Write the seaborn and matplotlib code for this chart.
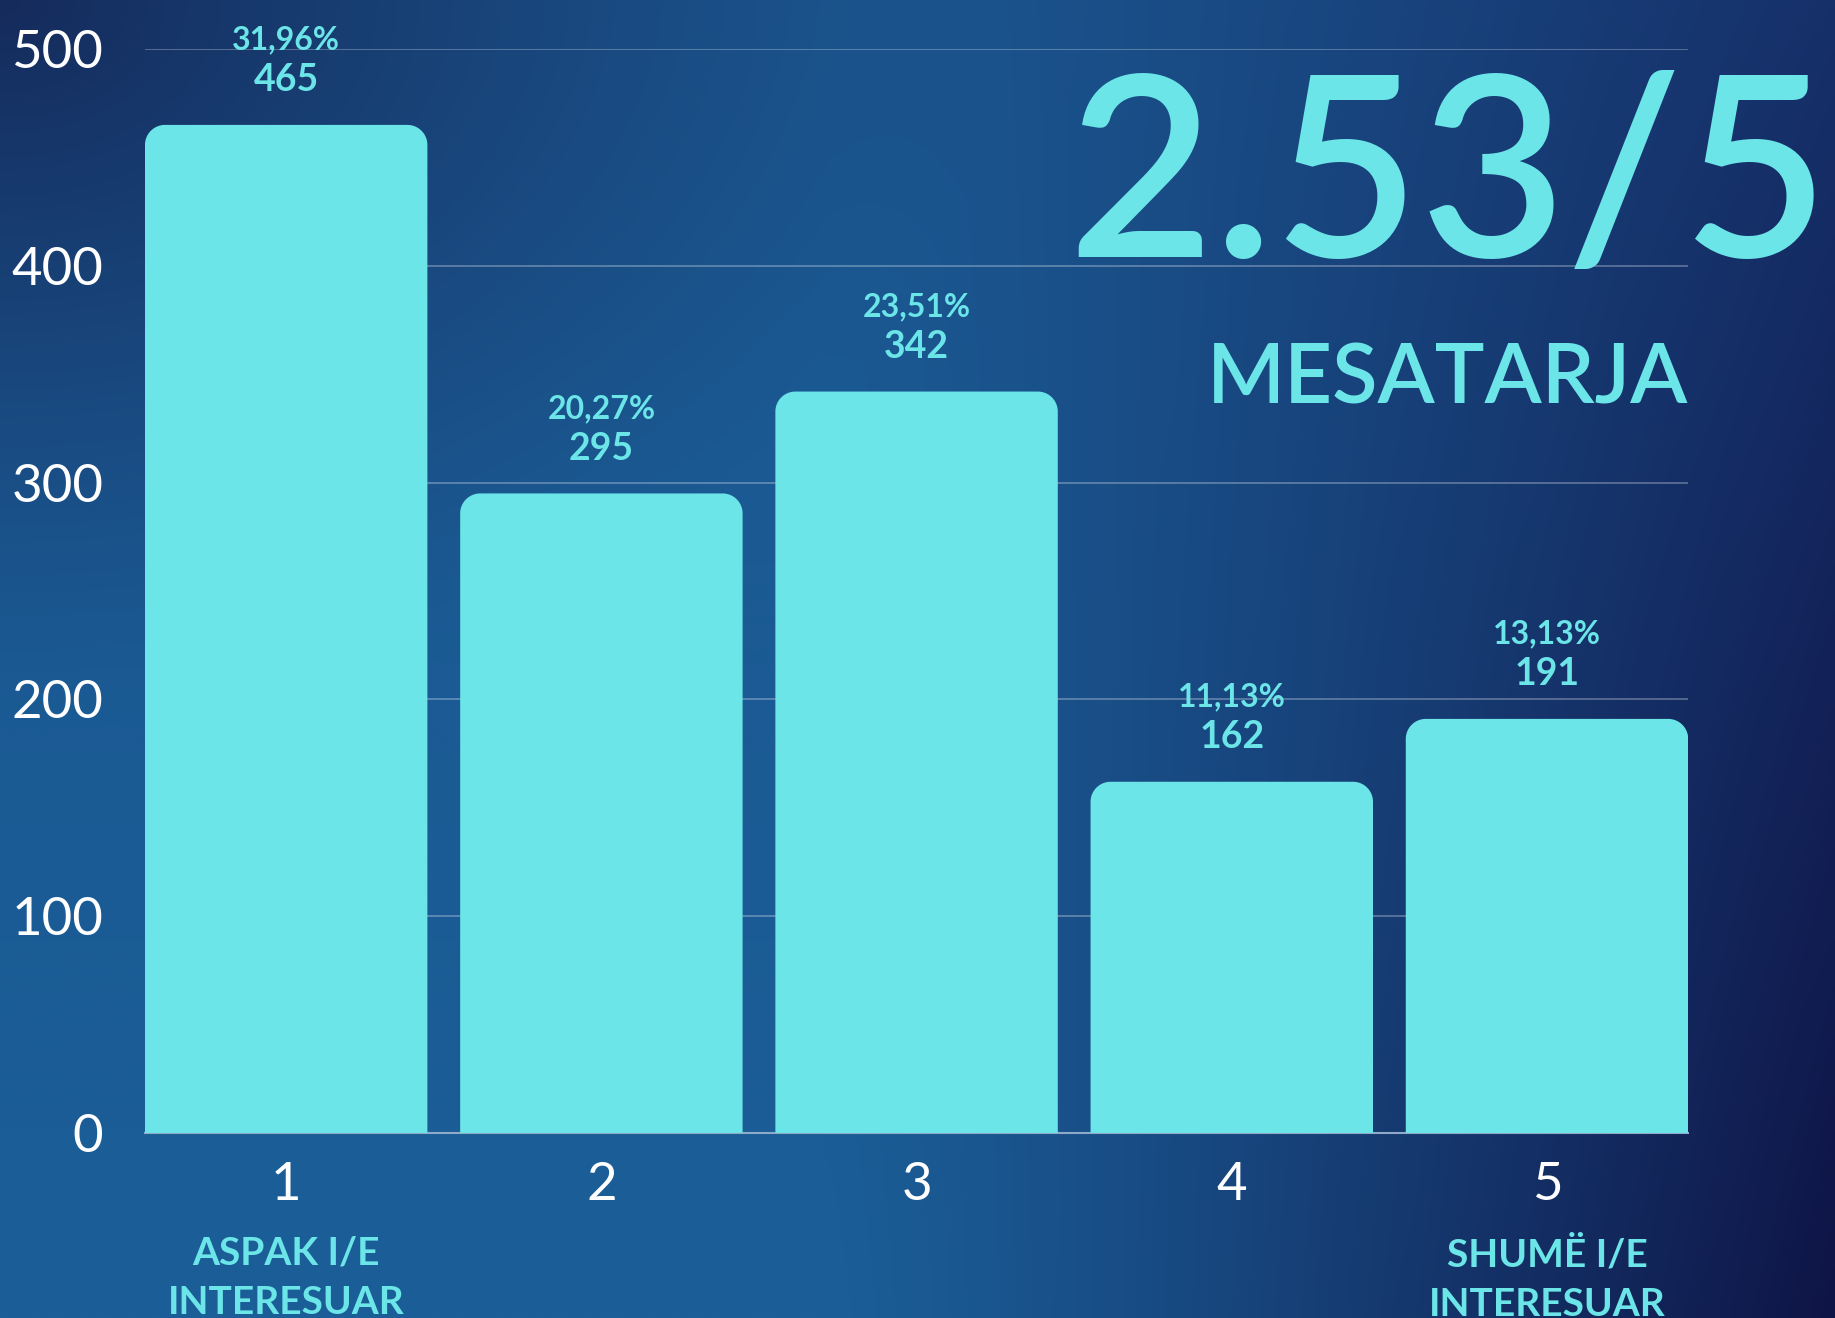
import numpy as np
import pandas as pd
import matplotlib
matplotlib.use("Agg")
import matplotlib.pyplot as plt
import seaborn as sns
from matplotlib.patches import PathPatch
from matplotlib.path import Path
from matplotlib.colors import to_rgb

# ---- data ----
ratings = ["1", "2", "3", "4", "5"]
counts = [465, 295, 342, 162, 191]
percents = ["31,96%", "20,27%", "23,51%", "11,13%", "13,13%"]
descriptions = ["ASPAK I/E\nINTERESUAR", "", "", "", "SHUMË I/E\nINTERESUAR"]
yticks = [0, 100, 200, 300, 400, 500]
average_text = "2.53/5"
average_label = "MESATARJA"

CYAN = "#6be5e8"

sns.set_theme(style="white")
plt.rcParams["font.family"] = ["Lato", "DejaVu Sans"]

W, H = 18.35, 13.18
fig = plt.figure(figsize=(W, H), dpi=100)

# ---- background gradient ----
bg = fig.add_axes([0, 0, 1, 1], zorder=-10)
ny, nx = 200, 300
yy, xx = np.mgrid[0:1:ny * 1j, 0:1:nx * 1j]  # yy: 0 top -> 1 bottom
blue_top = np.array(to_rgb("#1b5790"))
blue_bot = np.array(to_rgb("#1b5e98"))
dark_top = np.array(to_rgb("#16306a"))
dark_bot = np.array(to_rgb("#0f1446"))
blue = blue_top[None, None, :] * (1 - yy[..., None]) + blue_bot[None, None, :] * yy[..., None]
dark = dark_top[None, None, :] * (1 - yy[..., None]) + dark_bot[None, None, :] * yy[..., None]
t = np.clip((xx - 0.45) / 0.55, 0, 1) ** 1.2
img = blue * (1 - t[..., None]) + dark * t[..., None]
corner = np.array(to_rgb("#152b5c"))
d = np.sqrt((xx / 0.55) ** 2 + (yy / 0.55) ** 2)
w = np.clip(1 - d, 0, 1) ** 1.3
img = img * (1 - w[..., None]) + corner[None, None, :] * w[..., None]
bg.imshow(img, aspect="auto", extent=[0, 1, 0, 1], interpolation="bilinear")
bg.set_axis_off()

# ---- main axes ----
ax_rect = [0.079, 0.1404, 0.841, 0.8224]
ax = fig.add_axes(ax_rect)
ax.set_facecolor("none")
df = pd.DataFrame({"rating": ratings, "count": counts})
sns.barplot(data=df, x="rating", y="count", color=CYAN, saturation=1,
            width=0.896, ax=ax, zorder=3)

xlim = (-0.448, 4.448)
ylim = (0, 500)
ax.set_xlim(*xlim)
ax.set_ylim(*ylim)

# rounded top corners (built from each seaborn bar's geometry)
ax_w_px = ax_rect[2] * W * 100
ax_h_px = ax_rect[3] * H * 100
xu = (xlim[1] - xlim[0]) / ax_w_px
yu = (ylim[1] - ylim[0]) / ax_h_px
rx, ry = 20 * xu, 20 * yu
theta = np.linspace(0, np.pi / 2, 24)
for p in list(ax.patches):
    x0, w_, h_ = p.get_x(), p.get_width(), p.get_height()
    p.set_visible(False)
    x1 = x0 + w_
    verts = [(x0, 0)]
    # top-left corner
    cx, cy = x0 + rx, h_ - ry
    verts += [(cx - rx * np.cos(a), cy + ry * np.sin(a)) for a in theta]
    # top-right corner
    cx = x1 - rx
    verts += [(cx + rx * np.sin(a), cy + ry * np.cos(a)) for a in theta]
    verts += [(x1, 0), (x0, 0)]
    codes = [Path.MOVETO] + [Path.LINETO] * (len(verts) - 2) + [Path.CLOSEPOLY]
    ax.add_patch(PathPatch(Path(verts, codes), facecolor=CYAN,
                           edgecolor="none", zorder=3))

ax.set_yticks(yticks)
ax.yaxis.grid(True, color="white", alpha=0.28, lw=1.4)
ax.xaxis.grid(False)
ax.set_axisbelow(True)
for s in ["top", "right", "left"]:
    ax.spines[s].set_visible(False)
ax.spines["bottom"].set_color("#8fa9c9")
ax.spines["bottom"].set_linewidth(1.5)
ax.spines["bottom"].set_zorder(2)
ax.tick_params(axis="y", length=0, pad=30, labelsize=38, labelcolor="white")
ax.tick_params(axis="x", length=0, pad=21, labelsize=38, labelcolor="white")
ax.set_xlabel("")
ax.set_ylabel("")

for i, (c, pc) in enumerate(zip(counts, percents)):
    ax.annotate(str(c), (i, c), xytext=(0, 32), textcoords="offset points",
                ha="center", va="center", fontsize=27, fontweight="bold",
                color=CYAN)
    ax.annotate(pc, (i, c), xytext=(0, 61), textcoords="offset points",
                ha="center", va="center", fontsize=23, fontweight="bold",
                color=CYAN)

for i, dsc in enumerate(descriptions):
    if dsc:
        ax.text(i, -0.095, dsc, transform=ax.get_xaxis_transform(),
                ha="center", va="top", fontsize=28, fontweight="bold",
                color=CYAN, linespacing=1.5)

fig.text(0.997, 0.805, average_text, ha="right", va="baseline", fontsize=182,
         color=CYAN, fontweight="semibold")
fig.text(0.920, 0.6935, average_label, ha="right", va="baseline", fontsize=60,
         color=CYAN, fontweight="semibold")

fig.savefig("out.png", dpi=100)
